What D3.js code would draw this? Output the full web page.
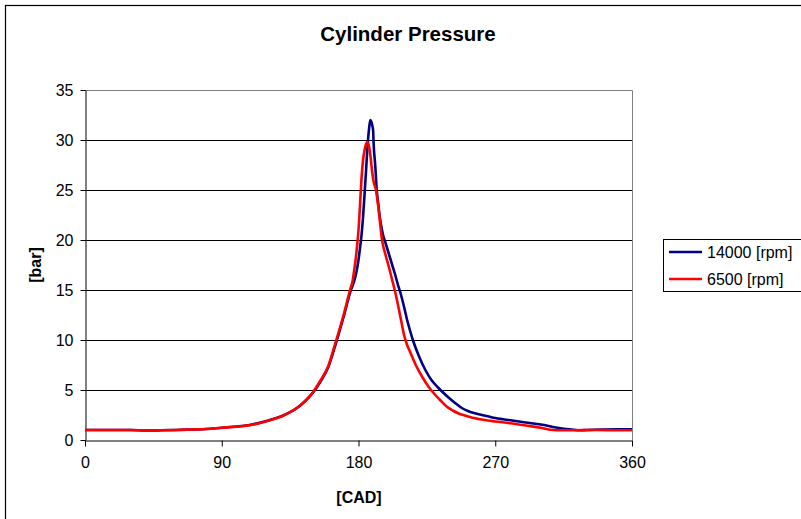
<!DOCTYPE html>
<html>
<head>
<meta charset="utf-8">
<script src="https://cdn.jsdelivr.net/npm/d3@7"></script>
<style>
  body { margin: 0; background: #fff; }
  svg text { font-family: Arial, "Liberation Sans", sans-serif; }
</style>
</head>
<body>
<div id="chart"></div>
<script>
// valeurs (angle en degrés, pression en bar)
var cad14000 = [0, 10, 20, 30, 40, 50, 60, 70, 80, 90, 100, 110, 120, 125, 130, 135, 140, 145, 150, 155, 160, 165, 170, 175,
    177, 178.5, 180, 181, 182, 183, 184, 185, 186, 187, 187.8, 188.5, 189, 189.6, 190, 191, 192, 193, 194, 196, 198, 200,
    202, 204, 206, 208, 210, 212, 214, 216, 220, 224, 228, 232, 236, 240, 244, 248, 252, 256, 260, 265, 270, 275, 280,
    290, 300, 310, 315, 320, 326, 330, 340, 350, 360];
var p14000 = [1.0, 1.0, 1.0, 1.0, 0.95, 0.97, 1.0, 1.05, 1.1, 1.23, 1.35, 1.55, 1.93, 2.15, 2.42, 2.78, 3.25, 3.9, 4.72, 5.85, 7.25, 9.6, 12.2, 15,
    15.8, 16.7, 18, 19.2, 20.5, 22.3, 24.6, 27, 29.5, 31.2, 32, 31.8, 31.5, 31, 29.5, 27.5, 25, 23.6, 22.3, 20.6, 19.6, 18.6,
    17.6, 16.6, 15.5, 14.5, 13.3, 12.0, 10.9, 9.9, 8.3, 7.0, 6.0, 5.3, 4.7, 4.15, 3.65, 3.2, 2.9, 2.7, 2.55, 2.38, 2.2, 2.08, 1.97,
    1.75, 1.55, 1.25, 1.13, 1.05, 0.97, 1.0, 1.05, 1.07, 1.07];

var cad6500 = [0, 10, 20, 30, 40, 50, 60, 70, 80, 90, 100, 110, 120, 125, 130, 135, 140, 145, 150, 155, 160, 165, 170, 175,
    176, 177, 178, 179, 180, 181, 182, 183, 184, 185, 185.8, 186.5, 187, 188, 189, 190, 191.5, 193.5, 195.5, 198, 200,
    202, 204, 206, 208, 210, 212, 214, 218, 222, 226, 230, 234, 238, 242, 246, 250, 255, 260, 265, 270, 280, 290,
    300, 305, 310, 320, 337, 350, 360];
var p6500 = [1.0, 1.0, 1.0, 1.0, 0.95, 0.97, 1.0, 1.05, 1.1, 1.22, 1.33, 1.52, 1.9, 2.12, 2.4, 2.78, 3.27, 3.93, 4.78, 5.95, 7.35, 9.8, 12.4, 15.3,
    15.8, 16.8, 17.9, 19.3, 21, 23.5, 26.2, 28, 29, 29.6, 29.8, 29.6, 29.3, 28.2, 26.8, 25.8, 25, 22.7, 20, 18.4, 17.3,
    16.1, 14.9, 13.5, 12.0, 10.5, 9.5, 8.8, 7.4, 6.3, 5.35, 4.6, 3.95, 3.35, 2.95, 2.65, 2.45, 2.22, 2.07, 1.95, 1.85, 1.67, 1.45,
    1.22, 1.05, 0.97, 0.97, 1.0, 0.97, 0.97];

var xTicks = [0, 90, 180, 270, 360];
var yTicks = [0, 5, 10, 15, 20, 25, 30, 35];
var series = [
    {nom: "14000 [rpm]", cad: cad14000, p: p14000, couleur: "#000080"},
    {nom: "6500 [rpm]", cad: cad6500, p: p6500, couleur: "#ff0000"}
];

var width = 801, height = 519;
var plot = {left: 85, right: 632, top: 90, bottom: 440};

var svg = d3.select("#chart").append("svg")
    .attr("width", width)
    .attr("height", height);

svg.append("rect")
    .attr("width", width).attr("height", height)
    .attr("fill", "#fff");

// cadre du graphique
svg.append("rect")
    .attr("x", 5.5).attr("y", 5.5)
    .attr("width", 830).attr("height", 540)
    .attr("fill", "none")
    .attr("stroke", "#000")
    .attr("stroke-width", 1.2);

var x = d3.scaleLinear().domain([0, 360]).range([plot.left, plot.right]);
var y = d3.scaleLinear().domain([0, 35]).range([plot.bottom, plot.top]);

// grille horizontale
svg.append("g")
    .selectAll("line")
    .data(yTicks.slice(1, -1))
    .enter().append("line")
    .attr("x1", plot.left).attr("x2", plot.right)
    .attr("y1", function(d) { return Math.round(y(d)) + 0.5; })
    .attr("y2", function(d) { return Math.round(y(d)) + 0.5; })
    .attr("stroke", "#000")
    .attr("stroke-width", 1);

// bordure haut / droite de la zone de tracé
svg.append("path")
    .attr("d", "M" + plot.left + "," + (plot.top + 0.5) + "H" + (plot.right + 0.5) + "V" + plot.bottom)
    .attr("fill", "none")
    .attr("stroke", "#808080")
    .attr("stroke-width", 1);

// axes
var xAxis = svg.append("g")
    .attr("transform", "translate(0," + (plot.bottom + 0.5) + ")")
    .call(d3.axisBottom(x).tickValues(xTicks).tickSize(6).tickPadding(10).tickSizeOuter(0));
var yAxis = svg.append("g")
    .attr("transform", "translate(" + (plot.left + 0.5) + ",0)")
    .call(d3.axisLeft(y).tickValues(yTicks).tickSize(5).tickPadding(7).tickSizeOuter(0));

[xAxis, yAxis].forEach(function(a) {
    a.select(".domain").attr("stroke", "#000");
    a.selectAll(".tick line").attr("stroke", "#000");
    a.selectAll(".tick text")
        .attr("fill", "#000")
        .style("font-size", "16px")
        .style("font-family", "Arial, 'Liberation Sans', sans-serif");
});

// courbes
var line = d3.line()
    .x(function(d) { return x(d[0]); })
    .y(function(d) { return y(d[1]); })
    .curve(d3.curveMonotoneX);

series.forEach(function(s) {
    svg.append("path")
        .datum(d3.zip(s.cad, s.p))
        .attr("d", line)
        .attr("fill", "none")
        .attr("stroke", s.couleur)
        .attr("stroke-width", 2.6)
        .attr("stroke-linejoin", "round");
});

// titres
svg.append("text")
    .attr("x", 408).attr("y", 41)
    .attr("text-anchor", "middle")
    .style("font-size", "20.5px").style("font-weight", "bold")
    .text("Cylinder Pressure");

svg.append("text")
    .attr("x", 359).attr("y", 503)
    .attr("text-anchor", "middle")
    .style("font-size", "16px").style("font-weight", "bold")
    .text("[CAD]");

svg.append("text")
    .attr("transform", "translate(41,265) rotate(-90)")
    .attr("text-anchor", "middle")
    .style("font-size", "16px").style("font-weight", "bold")
    .text("[bar]");

// légende
var leg = svg.append("g").attr("transform", "translate(663,239)");
leg.append("rect")
    .attr("x", 0.5).attr("y", 0.5)
    .attr("width", 200).attr("height", 52)
    .attr("fill", "#fff")
    .attr("stroke", "#000");

var item = leg.selectAll(".legend")
    .data(series)
    .enter().append("g")
    .attr("class", "legend")
    .attr("transform", function(d, i) { return "translate(0," + (13 + i * 27) + ")"; });

item.append("line")
    .attr("x1", 6).attr("x2", 39)
    .attr("stroke", function(d) { return d.couleur; })
    .attr("stroke-width", 2.6);

item.append("text")
    .attr("x", 44).attr("y", 6)
    .style("font-size", "16px")
    .text(function(d) { return d.nom; });
</script>
</body>
</html>
